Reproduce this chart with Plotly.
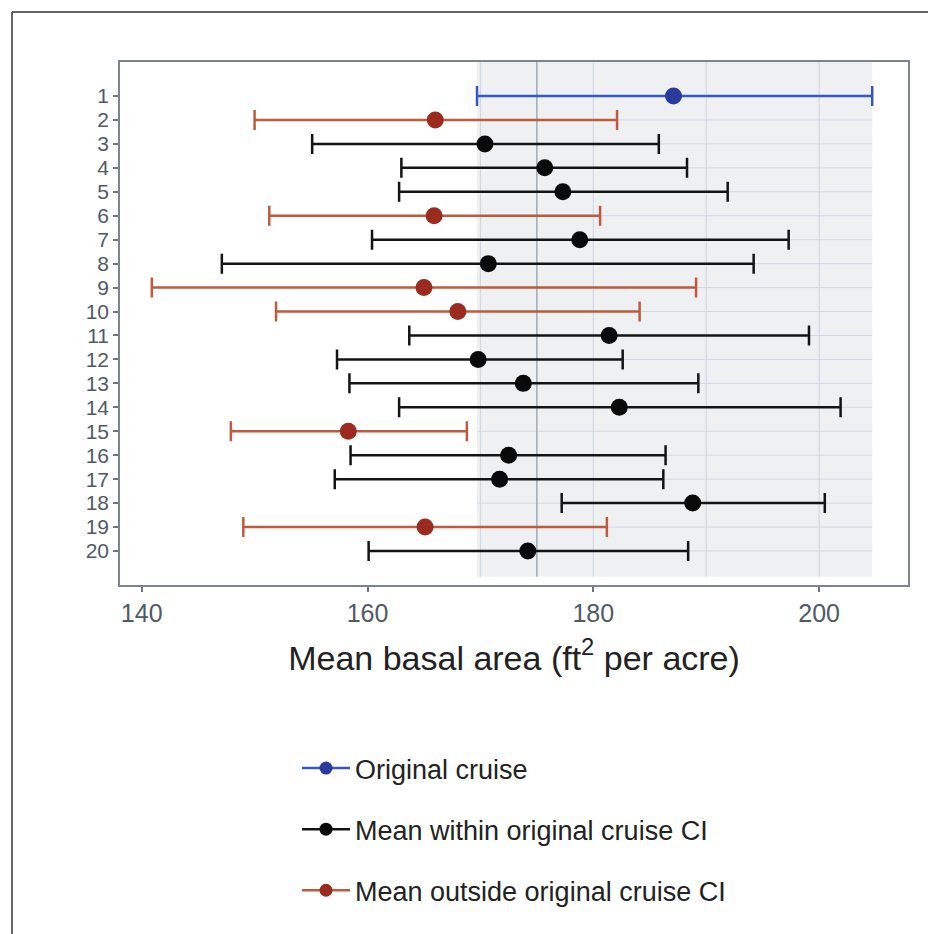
import plotly.graph_objects as go

# ---- data ----
samples = list(range(1, 21))
means = [187.1, 166.0, 170.4, 175.7, 177.3, 165.9, 178.8, 170.7, 165.0, 168.0,
         181.4, 169.8, 173.8, 182.3, 158.3, 172.5, 171.7, 188.8, 165.1, 174.2]
ci_low = [169.7, 150.0, 155.1, 163.0, 162.8, 151.3, 160.4, 147.1, 140.9, 151.9,
          163.7, 157.3, 158.4, 162.8, 147.9, 158.5, 157.1, 177.2, 149.0, 160.1]
ci_high = [204.7, 182.1, 185.8, 188.3, 191.9, 180.6, 197.3, 194.2, 189.1, 184.1,
           199.1, 182.6, 189.3, 201.9, 168.8, 186.4, 186.2, 200.5, 181.2, 188.4]
group = ["orig", "out", "in", "in", "in", "out", "in", "in", "out", "out",
         "in", "in", "in", "in", "out", "in", "in", "in", "out", "in"]
group_names = {"orig": "Original cruise",
               "in": "Mean within original cruise CI",
               "out": "Mean outside original cruise CI"}
x_ticks = [140, 160, 180, 200]
grid_x = [170, 180, 190, 200]
reference_line = 175

styles = {
    "orig": dict(line="#3558c8", marker="#2a3a9e"),
    "in": dict(line="#141414", marker="#0a0a0a"),
    "out": dict(line="#bf5a3e", marker="#9a2b1e"),
}

fig = go.Figure()

for g in ["orig", "in", "out"]:
    idx = [i for i, v in enumerate(group) if v == g]
    xs = [means[i] for i in idx]
    ys = [samples[i] for i in idx]
    plus = [ci_high[i] - means[i] for i in idx]
    minus = [means[i] - ci_low[i] for i in idx]
    fig.add_trace(go.Scatter(
        x=xs, y=ys, mode="markers", showlegend=False,
        marker=dict(color=styles[g]["marker"], size=17),
        error_x=dict(type="data", symmetric=False, array=plus, arrayminus=minus,
                     color=styles[g]["line"], thickness=2.5, width=10),
    ))
    # legend entry
    fig.add_trace(go.Scatter(
        x=[None], y=[None], mode="lines+markers", name=group_names[g],
        legendgroup=g,
        line=dict(color=styles[g]["line"], width=2.5),
        marker=dict(color=styles[g]["marker"], size=13),
    ))

lo, hi = ci_low[0], ci_high[0]
ytop, ybot = -0.42, 21.08
shapes = [dict(type="rect", xref="x", yref="y", x0=lo, x1=hi, y0=ytop, y1=ybot,
               fillcolor="#eff0f2", line=dict(width=0), layer="below")]
for s in samples:
    shapes.append(dict(type="line", xref="x", yref="y", x0=lo, x1=hi, y0=s, y1=s,
                       line=dict(color="#cfd9e4", width=1), layer="below"))
for gx in grid_x:
    shapes.append(dict(type="line", xref="x", yref="y", x0=gx, x1=gx, y0=ytop, y1=ybot,
                       line=dict(color="#c9d6e2", width=1), layer="below"))
shapes.append(dict(type="line", xref="x", yref="y", x0=reference_line, x1=reference_line,
                   y0=ytop, y1=ybot, line=dict(color="#8f9aa6", width=1.2), layer="below"))
# page border (top and left)
shapes.append(dict(type="line", xref="paper", yref="paper",
                   x0=(12 - 120) / 788, x1=(940 - 120) / 788,
                   y0=(585 - 12) / 523, y1=(585 - 12) / 523,
                   line=dict(color="#333333", width=1.5)))
shapes.append(dict(type="line", xref="paper", yref="paper",
                   x0=(12 - 120) / 788, x1=(12 - 120) / 788,
                   y0=(585 - 12) / 523, y1=(585 - 940) / 523,
                   line=dict(color="#333333", width=1.5)))

fig.update_layout(
    width=928, height=926,
    margin=dict(l=112, r=28, t=54, b=349),
    paper_bgcolor="white", plot_bgcolor="white",
    font=dict(family="Liberation Sans, Arial, sans-serif", color="#222222"),
    shapes=shapes,
    xaxis=dict(range=[138.08, 207.87], tickvals=x_ticks, showgrid=False, zeroline=False,
               ticks="outside", ticklen=5, tickcolor="#6b7580", tickwidth=1.5,
               tickfont=dict(size=25, color="#4f5a66"),
               showline=True, mirror=True, linecolor="#7d858c", linewidth=1.5,
               title=dict(text="Mean basal area (ft<sup>2</sup> per acre)",
                          font=dict(size=34, color="#222222"), standoff=20)),
    yaxis=dict(range=[21.42, -0.42], tickvals=samples, ticktext=[str(s) for s in samples],
               showgrid=False, zeroline=False,
               ticks="outside", ticklen=5, tickcolor="#6b7580", tickwidth=1.5,
               tickfont=dict(size=21, color="#4f5a66"),
               showline=True, mirror=True, linecolor="#7d858c", linewidth=1.5),
    legend=dict(x=(297 - 120) / 788, y=(585 - 744) / 523, xanchor="left", yanchor="top",
                font=dict(size=27, color="#222222"), tracegroupgap=23,
                bgcolor="rgba(0,0,0,0)", itemwidth=48),
    showlegend=True,
)

fig.write_html("out.html")
